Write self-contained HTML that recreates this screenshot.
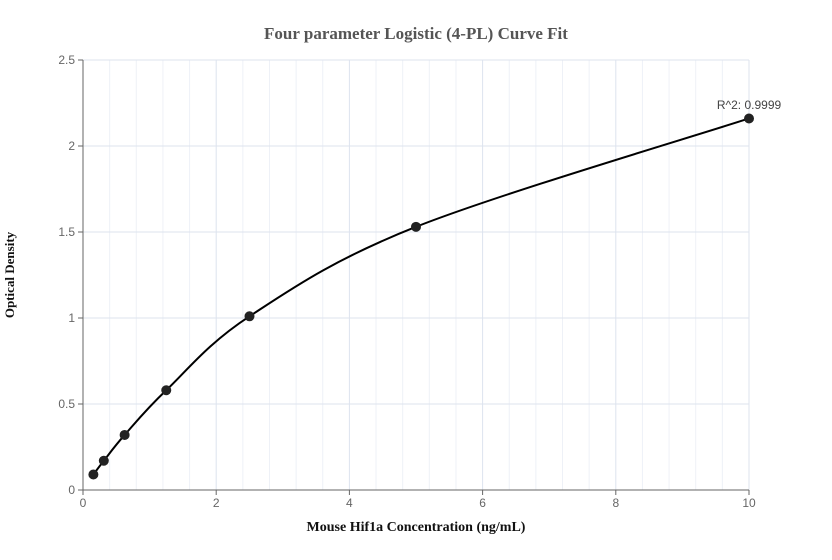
<!DOCTYPE html>
<html><head><meta charset="utf-8"><style>
body{margin:0;background:#fff;}
svg{display:block;}
</style></head><body>
<svg id="chart" width="832" height="560" xmlns="http://www.w3.org/2000/svg">
<text x="416" y="39" text-anchor="middle" font-family="Liberation Serif, serif" font-weight="bold" font-size="17" fill="#555">Four parameter Logistic (4-PL) Curve Fit</text>
<text x="416" y="531" text-anchor="middle" font-family="Liberation Serif, serif" font-weight="bold" font-size="14" fill="#111">Mouse Hif1a Concentration (ng/mL)</text>
<text transform="translate(14,275) rotate(-90)" text-anchor="middle" font-family="Liberation Serif, serif" font-weight="bold" font-size="13" fill="#111">Optical Density</text>
<g id="grid"></g><g id="axes"></g><g id="marks"></g>
<text x="749" y="109" text-anchor="middle" font-family="Liberation Sans, sans-serif" font-size="12" fill="#444">R^2: 0.9999</text>
</svg>
<script>
const xConc = [0.156, 0.3125, 0.625, 1.25, 2.5, 5, 10];
const yOD = [0.09, 0.17, 0.32, 0.58, 1.01, 1.53, 2.16];
const xTicks = [0, 2, 4, 6, 8, 10];
const yTicks = [0, 0.5, 1, 1.5, 2, 2.5];
const X0=83,X1=749,Y0=490,Y1=60;
const sx=v=>X0+(v/10)*(X1-X0), sy=v=>Y0-(v/2.5)*(Y0-Y1);
const NS="http://www.w3.org/2000/svg";
function mk(t,a,p){const e=document.createElementNS(NS,t);for(const k in a)e.setAttribute(k,a[k]);p.appendChild(e);return e;}
const grid=document.getElementById('grid'),axes=document.getElementById('axes'),marks=document.getElementById('marks');
for(let i=1;i<=25;i++){const v=i*0.4;const l=mk('line',{x1:sx(v),x2:sx(v),y1:Y1,y2:Y0,stroke:(i%5==0)?'#dde3ee':'#eef1f7','stroke-width':1},grid);

}
yTicks.forEach(v=>{if(v===0)return;const l=mk('line',{x1:X0,x2:X1,y1:sy(v),y2:sy(v),stroke:'#dde3ee','stroke-width':1},grid);

});
let a=mk('line',{x1:X0,x2:X0,y1:Y1,y2:Y0,stroke:'#666'},axes);


a=mk('line',{x1:X0,x2:X1,y1:Y0,y2:Y0,stroke:'#666'},axes);


xTicks.forEach(v=>{mk('line',{x1:sx(v),x2:sx(v),y1:Y0,y2:Y0+5,stroke:'#666'},axes);
const t=mk('text',{x:sx(v),y:Y0+17,'text-anchor':'middle','font-family':'Liberation Sans, sans-serif','font-size':12,fill:'#666'},axes);t.textContent=v;

});
yTicks.forEach(v=>{mk('line',{x1:X0-5,x2:X0,y1:sy(v),y2:sy(v),stroke:'#666'},axes);
const t=mk('text',{x:X0-8,y:sy(v)+4,'text-anchor':'end','font-family':'Liberation Sans, sans-serif','font-size':12,fill:'#666'},axes);t.textContent=v;

});
// smooth curve (Catmull-Rom) through points
const P=xConc.map((x,i)=>[sx(x),sy(yOD[i])]);
let d='M'+P[0][0]+','+P[0][1];
for(let i=0;i<P.length-1;i++){const p0=P[Math.max(0,i-1)],p1=P[i],p2=P[i+1],p3=P[Math.min(P.length-1,i+2)];
const c1=[p1[0]+(p2[0]-p0[0])/6,p1[1]+(p2[1]-p0[1])/6],c2=[p2[0]-(p3[0]-p1[0])/6,p2[1]-(p3[1]-p1[1])/6];
d+=` C${c1[0]},${c1[1]} ${c2[0]},${c2[1]} ${p2[0]},${p2[1]}`;}
const c=mk('path',{d:d,fill:'none',stroke:'#000','stroke-width':2},marks);


P.forEach(p=>{const e=mk('circle',{cx:p[0],cy:p[1],r:5,fill:'#222'},marks);

});
</script>
</body></html>
